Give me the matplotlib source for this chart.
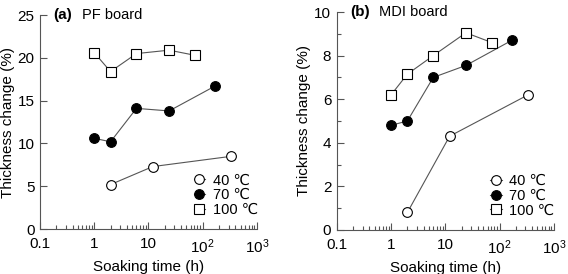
import matplotlib.pyplot as plt
from matplotlib.ticker import FixedLocator, LogLocator, NullFormatter, FuncFormatter

plt.rcParams['font.family'] = ['Liberation Sans', 'DejaVu Sans']

# soaking time (h)
t40 = [2, 12, 336]
t70 = [1, 2, 6, 24, 168]
t100 = [1, 2, 6, 24, 72]

# (a) PF board, thickness change (%)
pf_40 = [5.2, 7.3, 8.5]
pf_70 = [10.6, 10.2, 14.1, 13.8, 16.7]
pf_100 = [20.6, 18.4, 20.5, 20.9, 20.3]

# (b) MDI board, thickness change (%)
mdi_40 = [0.8, 4.3, 6.2]
mdi_70 = [4.8, 5.0, 7.0, 7.55, 8.7]
mdi_100 = [6.2, 7.15, 8.0, 9.05, 8.6]

labels = ["40 \u2103", "70 \u2103", "100 \u2103"]


def xfmt(v, pos):
    if v == 0.1:
        return "0.1"
    if v == 1:
        return "1"
    if v == 10:
        return "10"
    if v == 100:
        return r"$\mathregular{10^2}$"
    if v == 1000:
        return r"$\mathregular{10^3}$"
    return ""


def draw(ax, d40, d70, d100, ymax, ymajor, yminor, tag, name):
    line = dict(color="#555555", lw=0.8, ms=7, mec="black", mew=0.8)
    ax.plot(t40, d40, marker="o", mfc="white", label=labels[0], **line)
    ax.plot(t70, d70, marker="o", mfc="black", label=labels[1], **line)
    ax.plot(t100, d100, marker="s", mfc="white", label=labels[2], **line)

    ax.set_xscale("log")
    ax.set_xlim(0.1, 1000)
    ax.set_ylim(0, ymax)
    ax.xaxis.set_major_locator(FixedLocator([0.1, 1, 10, 100, 1000]))
    ax.xaxis.set_major_formatter(FuncFormatter(xfmt))
    ax.xaxis.set_minor_locator(LogLocator(base=10, subs=range(2, 10), numticks=20))
    ax.xaxis.set_minor_formatter(NullFormatter())
    ax.yaxis.set_major_locator(FixedLocator(ymajor))
    ax.yaxis.set_minor_locator(FixedLocator(yminor))

    for s in ["top", "right"]:
        ax.spines[s].set_visible(False)
    for s in ["left", "bottom"]:
        ax.spines[s].set_color("#555555")
        ax.spines[s].set_linewidth(0.8)

    ax.tick_params(which="both", direction="in", color="#555555", labelsize=11)
    ax.tick_params(axis="x", pad=6)
    ax.tick_params(axis="y", pad=4)
    ax.tick_params(which="major", length=5, width=0.8)
    ax.tick_params(which="minor", length=3, width=0.8)

    ax.set_xlabel("Soaking time (h)", fontsize=11, labelpad=3)
    ax.set_ylabel("Thickness change (%)", fontsize=11, labelpad=2)

    ax.text(0.06, 1.0, tag, transform=ax.transAxes, fontsize=11,
            fontweight="bold", va="center")
    ax.text(0.195, 1.0, name, transform=ax.transAxes, fontsize=10.5, va="center")

    ax.legend(loc="lower right", bbox_to_anchor=(1.03, 0.03), frameon=False,
              fontsize=10.5, handlelength=0.8, handletextpad=0.5,
              labelspacing=0.05, borderaxespad=0)


fig = plt.figure(figsize=(5.68, 2.74), dpi=100)
ax1 = fig.add_axes([0.0704, 0.164, 0.382, 0.781])
ax2 = fig.add_axes([0.593, 0.161, 0.382, 0.795])

draw(ax1, pf_40, pf_70, pf_100, 25, [0, 5, 10, 15, 20, 25], [],
     "(a)", "PF board")
draw(ax2, mdi_40, mdi_70, mdi_100, 10, [0, 2, 4, 6, 8, 10], [1, 3, 5, 7, 9],
     "(b)", "MDI board")

fig.savefig("out.png", dpi=100)
